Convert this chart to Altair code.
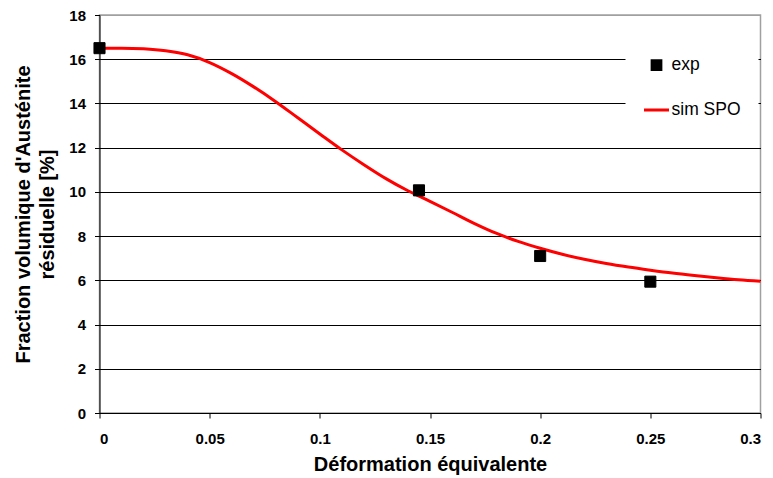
import altair as alt
import pandas as pd

# Experimental points
exp_x = [0.0, 0.145, 0.2, 0.25]
exp_y = [16.5, 10.07, 7.1, 5.94]

# Simulation curve (sim SPO)
sim_x = [0.0, 0.01, 0.02, 0.03, 0.04, 0.05, 0.06, 0.07, 0.08, 0.09, 0.10,
         0.11, 0.12, 0.13, 0.14, 0.15, 0.16, 0.17, 0.18, 0.19, 0.20,
         0.21, 0.22, 0.23, 0.24, 0.25, 0.26, 0.27, 0.28, 0.29, 0.30]
sim_y = [16.5, 16.5, 16.47, 16.38, 16.2, 15.85, 15.35, 14.75, 14.08, 13.35, 12.62,
         11.9, 11.23, 10.6, 10.05, 9.57, 9.08, 8.58, 8.13, 7.76, 7.45,
         7.18, 6.95, 6.76, 6.6, 6.46, 6.33, 6.22, 6.12, 6.03, 5.96]

series_names = ["exp", "sim SPO"]
series_colors = ["black", "red"]
# square glyph for the points, short horizontal stroke for the curve
series_shapes = ["M-0.35,-0.35H0.35V0.35H-0.35Z", "M-1,0H1"]

x_ticks = [0, 0.05, 0.1, 0.15, 0.2, 0.25, 0.3]
y_ticks = [0, 2, 4, 6, 8, 10, 12, 14, 16, 18]

exp_df = pd.DataFrame({"x": exp_x, "y": exp_y, "series": series_names[0]})
sim_df = pd.DataFrame({"x": sim_x, "y": sim_y, "series": series_names[1]})

FONT = "Liberation Sans"

x_enc = alt.X(
    "x:Q",
    scale=alt.Scale(domain=[0, 0.3], nice=False, zero=False),
    axis=alt.Axis(
        values=x_ticks, format="~g", title="Déformation équivalente",
        titleX=330.5, titleY=57, titleBaseline="alphabetic", titleAlign="center",
        labelPadding=13, grid=False,
    ),
)
y_enc = alt.Y(
    "y:Q",
    scale=alt.Scale(domain=[0, 18], nice=False),
    axis=alt.Axis(
        values=y_ticks,
        title=["Fraction volumique d'Austénite", "résiduelle [%]"],
        titleAngle=270, titleX=-70, titleY=199, titleAlign="center",
        titleBaseline="alphabetic", titleLineHeight=24,
        labelPadding=9, grid=True,
        gridColor={"condition": {"test": "datum.value === 18", "value": "#a0a0a0"}, "value": "black"},
    ),
)

legend = alt.Legend(
    title=None, orient="none", legendX=526, legendY=19,
    fillColor="white", padding=17, symbolSize=625, symbolStrokeWidth=3,
    symbolOpacity=1, labelOffset=1, rowPadding=20,
    labelFont=FONT, labelFontSize=17.5, labelColor="black",
)

stroke_enc = alt.Stroke(
    "series:N", scale=alt.Scale(domain=series_names, range=series_colors), legend=legend
)
fill_enc = alt.Fill(
    "series:N", scale=alt.Scale(domain=series_names, range=series_colors), legend=legend
)
shape_enc = alt.Shape(
    "series:N", scale=alt.Scale(domain=series_names, range=series_shapes), legend=legend
)

line = alt.Chart(sim_df).mark_line(strokeWidth=3, interpolate="monotone").encode(
    x=x_enc, y=y_enc, stroke=stroke_enc
)

points = alt.Chart(exp_df).mark_point(
    filled=True, size=1000, opacity=1, strokeWidth=1
).encode(x=x_enc, y=y_enc, fill=fill_enc, stroke=stroke_enc, shape=shape_enc)

chart = (
    alt.layer(line, points)
    .properties(
        width=661, height=398,
        autosize=alt.AutoSizeParams(type="none"),
        padding={"left": 91.5, "top": 7, "right": 4, "bottom": 62},
        background="white",
    )
    .configure_view(stroke="#a0a0a0", strokeWidth=1.5)
    .configure_axis(
        labelFont=FONT, labelFontSize=15, labelFontWeight="bold", labelColor="black",
        titleFont=FONT, titleFontSize=20, titleFontWeight="bold", titleColor="black",
        domainColor="black", domainWidth=1, tickColor="black", tickSize=5, tickWidth=1,
        gridWidth=1,
    )
)

chart.save("out.html", embed_options={"renderer": "svg", "actions": False})
